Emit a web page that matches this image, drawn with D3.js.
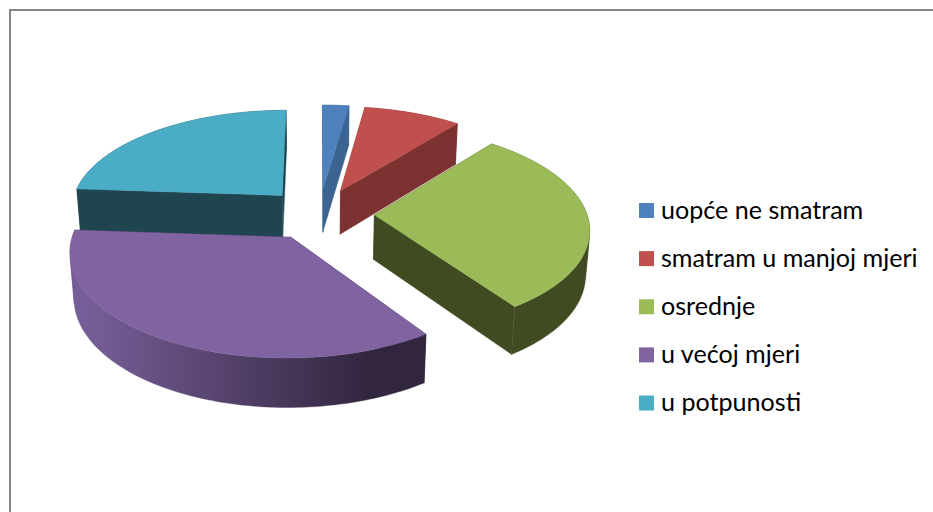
<!DOCTYPE html>
<html><head><meta charset="utf-8">
<script src="https://cdn.jsdelivr.net/npm/d3@7"></script>
<style>html,body{margin:0;padding:0;background:#fff;overflow:hidden}svg{display:block}</style>
</head><body><div id="chart"></div>
<script>
const categories = ["uopće ne smatram","smatram u manjoj mjeri","osrednje","u većoj mjeri","u potpunosti"];
const values = [2.3, 8.5, 29.6, 35.7, 23.9];
const topColors = ["#4F81BD","#C0504D","#9BBB59","#8064A2","#4BACC6"];
const wallColors = ["#3B6590","#7B3230","#414B22","#32263F","#1F4550"];
const wallLightColors = ["#3B6590","#7B3230","#414B22","#765D97","#1F4550"];
const drawOrder = [0,4,1,2,3];

const W=933,H=512;
const svg=d3.select("#chart").append("svg").attr("width",W).attr("height",H);
const defs=svg.append("defs");
svg.append("rect").attr("x",10).attr("y",10).attr("width",W+20).attr("height",H+20)
   .attr("fill","#fff").attr("stroke","#868686").attr("stroke-width",2);

// perspective camera
const cx=319,cy=214,f=1531,dist=7.2,tilt=28*Math.PI/180,depth=0.24,explode=0.26;
const project=(X,Y,Z)=>{
  const yy=Y*Math.cos(tilt)-Z*Math.sin(tilt), zz=Y*Math.sin(tilt)+Z*Math.cos(tilt), k=f/(dist-zz);
  return [cx+X*k, cy-yy*k];
};
const pie=d3.pie().sort(null).value(d=>d)(values);
const line=d3.line().curve(d3.curveLinearClosed);

const g=svg.append("g");
drawOrder.forEach(i=>{
  const s=pie[i], mid=(s.startAngle+s.endAngle)/2;
  const ox=explode*Math.sin(mid), oz=-explode*Math.cos(mid);
  const P=(a,r,Y)=>project(ox+r*Math.sin(a),Y,oz-r*Math.cos(a));
  const angles=d3.range(0,121).map(j=>s.startAngle+(s.endAngle-s.startAngle)*j/120);
  [s.startAngle,s.endAngle].forEach(a=>{
    g.append("path").attr("d",line([P(a,0,0),P(a,1,0),P(a,1,-depth),P(a,0,-depth)]))
     .attr("fill",wallColors[i]).attr("stroke",wallColors[i]).attr("stroke-width",0.4);
  });
  // outer curved wall with a horizontal light-to-dark gradient
  const gid="wall"+i;
  const lg=defs.append("linearGradient").attr("id",gid).attr("gradientUnits","userSpaceOnUse")
    .attr("x1",P(s.endAngle,1,-depth)[0]+10).attr("x2",P(s.startAngle,1,-depth)[0]-55).attr("y1",0).attr("y2",0);
  lg.append("stop").attr("offset",0).attr("stop-color",wallLightColors[i]);
  lg.append("stop").attr("offset",1).attr("stop-color",wallColors[i]);
  // split the ribbon wherever it folds over its silhouette, so each run fills fully
  const area=(a,b)=>d3.polygonArea([P(a,1,0),P(b,1,0),P(b,1,-depth),P(a,1,-depth)]);
  let runs=[[angles[0]]];
  d3.pairs(angles).forEach(([a,b],k,arr)=>{
    if(k>0 && Math.sign(area(a,b))!==Math.sign(area(arr[k-1][0],arr[k-1][1]))) runs.push([a]);
    runs[runs.length-1].push(b);
  });
  runs.forEach(run=>{
    const outline=run.map(a=>P(a,1,0)).concat(run.slice().reverse().map(a=>P(a,1,-depth)));
    g.append("path").attr("d",line(outline)).attr("fill",`url(#${gid})`)
     .attr("stroke",`url(#${gid})`).attr("stroke-width",0.4);
  });
  // top face
  g.append("path").attr("d",line([P(0,0,0)].concat(angles.map(a=>P(a,1,0)))))
   .attr("fill",topColors[i]).attr("stroke",topColors[i]).attr("stroke-width",0.4);
});

// legend
const legendY=d3.scalePoint().domain(categories).range([210.5,403]);
const lgd=svg.append("g").selectAll("g").data(categories).join("g")
  .attr("transform",d=>`translate(639,${legendY(d)})`);
lgd.append("rect").attr("x",0).attr("y",-7.5).attr("width",15).attr("height",15)
  .attr("fill",(d,i)=>topColors[i]);
lgd.append("text").attr("x",22).attr("y",8).text(d=>d)
  .attr("font-family","Lato, 'Open Sans', sans-serif").attr("font-size",25.1).attr("fill","#000");
</script></body></html>
